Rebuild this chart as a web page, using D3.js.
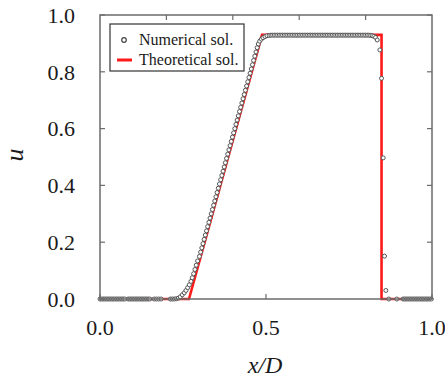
<!DOCTYPE html>
<html lang="en">
<head>
  <meta charset="utf-8">
  <title>u vs x/D</title>
  <script src="https://d3js.org/d3.v7.min.js"></script>
  <style>
    body { margin: 0; background: #fff; }
    text { font-family: "Liberation Serif", "Times New Roman", serif; fill: #1a1a1a; }
  </style>
</head>
<body>
<script>
// theoretical solution (corner points)
var theoX = [0, 0.268, 0.488, 0.848, 0.848, 1.0];
var theoU = [0, 0, 0.93, 0.93, 0, 0];

// numerical solution
var numX = [
  0.000, 0.005, 0.010, 0.015, 0.020, 0.025, 0.030, 0.035, 0.040, 0.045,
  0.050, 0.055, 0.060, 0.065, 0.070, 0.075, 0.085, 0.090, 0.095, 0.100,
  0.105, 0.110, 0.115, 0.120, 0.125, 0.130, 0.135, 0.140, 0.145, 0.150,
  0.163, 0.170, 0.177, 0.184,
  0.212, 0.218, 0.224, 0.230,
  0.236, 0.242, 0.248, 0.254, 0.259, 0.264, 0.269, 0.274, 0.278, 0.282,
  0.286, 0.290, 0.294,
  0.2995, 0.3030, 0.3066, 0.3101, 0.3137, 0.3172, 0.3208, 0.3243, 0.3279, 0.3314,
  0.3350, 0.3385, 0.3421, 0.3456, 0.3492, 0.3527, 0.3563, 0.3598, 0.3634, 0.3669,
  0.3705, 0.3740, 0.3776, 0.3811, 0.3847, 0.3882, 0.3918, 0.3953, 0.3989, 0.4024,
  0.4060, 0.4095, 0.4131, 0.4166, 0.4202, 0.4237, 0.4273, 0.4308, 0.4344, 0.4379,
  0.4415, 0.4450, 0.4486, 0.4521, 0.4557, 0.4592, 0.4627, 0.4663, 0.4698, 0.4734,
  0.477, 0.481, 0.486, 0.491, 0.497, 0.503, 0.510,
  0.515, 0.520, 0.525, 0.530, 0.535, 0.540, 0.545, 0.550, 0.555, 0.560,
  0.565, 0.570, 0.575, 0.580, 0.585, 0.590, 0.595, 0.600, 0.605, 0.610,
  0.615, 0.620, 0.625, 0.630, 0.635, 0.640, 0.645, 0.650, 0.655, 0.660,
  0.665, 0.670, 0.675, 0.680, 0.685, 0.690, 0.695, 0.700, 0.705, 0.710,
  0.715, 0.720, 0.725, 0.730, 0.735, 0.740, 0.745, 0.750, 0.755, 0.760,
  0.765, 0.770, 0.775, 0.780, 0.785, 0.790, 0.795, 0.800, 0.805, 0.810,
  0.815, 0.820, 0.825, 0.830, 0.835,
  0.843, 0.848, 0.853, 0.857, 0.861, 0.870, 0.894,
  0.913, 0.918, 0.923, 0.928, 0.933, 0.938, 0.943, 0.948, 0.953, 0.958,
  0.963, 0.968, 0.973, 0.978, 0.983, 0.988, 0.993, 0.998
];
var numU = [
  0, 0, 0, 0, 0, 0, 0, 0, 0, 0,
  0, 0, 0, 0, 0, 0, 0, 0, 0, 0,
  0, 0, 0, 0, 0, 0, 0, 0, 0, 0,
  0, 0, 0, 0,
  0, 0, 0, 0.001,
  0.003, 0.008, 0.015, 0.022, 0.030, 0.040, 0.050, 0.062, 0.075, 0.089,
  0.104, 0.119, 0.134,
  0.150, 0.165, 0.180, 0.195, 0.210, 0.225, 0.240, 0.255, 0.270, 0.285,
  0.300, 0.315, 0.330, 0.345, 0.360, 0.375, 0.390, 0.405, 0.420, 0.435,
  0.450, 0.465, 0.480, 0.495, 0.510, 0.525, 0.540, 0.555, 0.570, 0.585,
  0.600, 0.615, 0.630, 0.645, 0.660, 0.675, 0.690, 0.705, 0.720, 0.735,
  0.750, 0.765, 0.780, 0.795, 0.810, 0.825, 0.840, 0.855, 0.870, 0.885,
  0.898, 0.908, 0.915, 0.920, 0.924, 0.927, 0.928,
  0.929, 0.929, 0.929, 0.929, 0.929, 0.929, 0.929, 0.929, 0.929, 0.929,
  0.929, 0.929, 0.929, 0.929, 0.929, 0.929, 0.929, 0.929, 0.929, 0.929,
  0.929, 0.929, 0.929, 0.929, 0.929, 0.929, 0.929, 0.929, 0.929, 0.929,
  0.929, 0.929, 0.929, 0.929, 0.929, 0.929, 0.929, 0.929, 0.929, 0.929,
  0.929, 0.929, 0.929, 0.929, 0.929, 0.929, 0.929, 0.929, 0.929, 0.929,
  0.929, 0.929, 0.929, 0.929, 0.929, 0.929, 0.929, 0.929, 0.929, 0.929,
  0.928, 0.927, 0.925, 0.921, 0.912,
  0.877, 0.777, 0.497, 0.151, 0.030, 0, 0,
  0, 0, 0, 0, 0, 0, 0, 0, 0, 0,
  0, 0, 0, 0, 0, 0, 0, 0
];

var xTicksBottom = [0, 0.5, 1.0];
var xTicksTop = [0.2, 0.4, 0.6, 0.8];
var yTicks = [0, 0.2, 0.4, 0.6, 0.8, 1.0];
var legendLabels = ["Numerical sol.", "Theoretical sol."];

var w = 445, h = 378;
var pLeft = 100, pRight = 432, pTop = 15, pBottom = 299;
var axisColor = "#6b6b6b";

var svg = d3.select("body").append("svg")
  .attr("width", w)
  .attr("height", h);

var x = d3.scaleLinear().domain([0, 1]).range([pLeft, pRight]);
var y = d3.scaleLinear().domain([0, 1]).range([pBottom, pTop]);

// theoretical line
var theo = theoX.map(function(d, i) { return [d, theoU[i]]; });
svg.append("path")
  .datum(theo)
  .attr("fill", "none")
  .attr("stroke", "#ff1a1a")
  .attr("stroke-width", 2.6)
  .attr("d", d3.line().x(function(d) { return x(d[0]); }).y(function(d) { return y(d[1]); }));

// numerical points
var num = numX.map(function(d, i) { return [d, numU[i]]; });
svg.selectAll("circle.num")
  .data(num)
  .enter()
  .append("circle")
  .attr("class", "num")
  .attr("cx", function(d) { return x(d[0]); })
  .attr("cy", function(d) { return y(d[1]); })
  .attr("r", 2)
  .attr("fill", "#fff")
  .attr("stroke", "#555")
  .attr("stroke-width", 1);

// frame
svg.append("rect")
  .attr("x", pLeft).attr("y", pTop)
  .attr("width", pRight - pLeft).attr("height", pBottom - pTop)
  .attr("fill", "none")
  .attr("stroke", axisColor)
  .attr("stroke-width", 1.5);

// inward ticks
var tl = 5;
svg.selectAll("line.bt").data(xTicksBottom).enter().append("line")
  .attr("x1", function(d) { return x(d); }).attr("x2", function(d) { return x(d); })
  .attr("y1", pBottom).attr("y2", pBottom - tl)
  .attr("stroke", axisColor).attr("stroke-width", 1.2);
svg.selectAll("line.tt").data(xTicksTop).enter().append("line")
  .attr("x1", function(d) { return x(d); }).attr("x2", function(d) { return x(d); })
  .attr("y1", pTop).attr("y2", pTop + tl)
  .attr("stroke", axisColor).attr("stroke-width", 1.2);
svg.selectAll("line.lt").data(yTicks).enter().append("line")
  .attr("x1", pLeft).attr("x2", pLeft + tl)
  .attr("y1", function(d) { return y(d); }).attr("y2", function(d) { return y(d); })
  .attr("stroke", axisColor).attr("stroke-width", 1.2);
svg.selectAll("line.rt").data(yTicks).enter().append("line")
  .attr("x1", pRight).attr("x2", pRight - tl)
  .attr("y1", function(d) { return y(d); }).attr("y2", function(d) { return y(d); })
  .attr("stroke", axisColor).attr("stroke-width", 1.2);

// tick labels
svg.selectAll("text.xl").data(xTicksBottom).enter().append("text")
  .attr("x", function(d) { return x(d); })
  .attr("y", 335)
  .attr("text-anchor", "middle")
  .style("font-size", "22px")
  .text(function(d) { return d3.format(".1f")(d); });
svg.selectAll("text.yl").data(yTicks).enter().append("text")
  .attr("x", 75)
  .attr("y", function(d) { return y(d); })
  .attr("dy", "0.35em")
  .attr("text-anchor", "end")
  .style("font-size", "22px")
  .text(function(d) { return d3.format(".1f")(d); });

// axis titles
svg.append("text")
  .attr("x", 265).attr("y", 373)
  .attr("text-anchor", "middle")
  .style("font-size", "24px")
  .style("font-style", "italic")
  .text("x/D");
svg.append("text")
  .attr("transform", "translate(23,155) rotate(-90)")
  .attr("text-anchor", "middle")
  .style("font-size", "26px")
  .style("font-style", "italic")
  .text("u");

// legend
var lg = svg.append("g");
lg.append("rect")
  .attr("x", 110).attr("y", 24)
  .attr("width", 134).attr("height", 47)
  .attr("fill", "#fff")
  .attr("stroke", "#333")
  .attr("stroke-width", 1.2);
lg.append("circle")
  .attr("cx", 124).attr("cy", 40).attr("r", 2.3)
  .attr("fill", "#fff").attr("stroke", "#444").attr("stroke-width", 1.2);
lg.append("line")
  .attr("x1", 117).attr("x2", 132).attr("y1", 60).attr("y2", 60)
  .attr("stroke", "#ff1a1a").attr("stroke-width", 3);
lg.selectAll("text").data(legendLabels).enter().append("text")
  .attr("x", 139)
  .attr("y", function(d, i) { return 45 + i * 20; })
  .style("font-size", "16px")
  .text(function(d) { return d; });
</script>
</body>
</html>
